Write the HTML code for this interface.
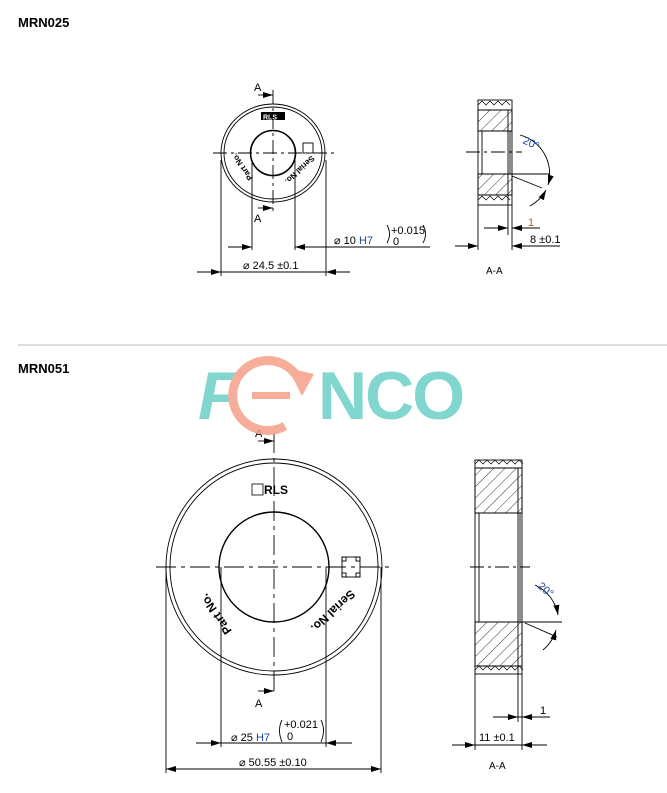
<!DOCTYPE html><html><head><style>body{margin:0;background:#fff}svg{display:block}text{font-family:"Liberation Sans",sans-serif}</style></head><body>
<svg width="667" height="793" viewBox="0 0 667 793" xmlns="http://www.w3.org/2000/svg">
<defs>
<pattern id="h" width="8" height="8" patternUnits="userSpaceOnUse" patternTransform="rotate(45)"><line x1="0" y1="0" x2="0" y2="8" stroke="#000" stroke-width="0.8"/></pattern>
<marker id="ar" viewBox="0 0 10 6" refX="10" refY="3" markerWidth="10" markerHeight="6" orient="auto-start-reverse" markerUnits="userSpaceOnUse"><path d="M0,0L10,3L0,6z" fill="#000"/></marker>
</defs>
<text x="18" y="27" font-size="13" font-weight="bold">MRN025</text>
<text x="18" y="373" font-size="13" font-weight="bold">MRN051</text>
<line x1="18" y1="345" x2="667" y2="345" stroke="#bbb" stroke-width="1"/>
<g stroke="#000" fill="none" stroke-width="0.9">
<!-- top front -->
<ellipse cx="273" cy="153" rx="52" ry="49"/><ellipse cx="273" cy="153" rx="49" ry="46"/>
<circle cx="273" cy="153" r="22.5" stroke-width="1.6"/>
<line x1="213" y1="153" x2="338" y2="153" stroke-dasharray="14,4,3,4"/>
<line x1="273" y1="90" x2="273" y2="215" stroke-dasharray="14,4,3,4"/>
<line x1="258" y1="95" x2="273" y2="95" marker-end="url(#ar)"/><line x1="258" y1="208" x2="273" y2="208" marker-end="url(#ar)"/>
<rect x="303" y="143" width="10" height="10"/>
<line x1="221" y1="160" x2="221" y2="276"/><line x1="326" y1="160" x2="326" y2="276"/>
<line x1="252" y1="160" x2="252" y2="250"/><line x1="295" y1="160" x2="295" y2="250"/>
<line x1="228" y1="247" x2="252" y2="247" marker-end="url(#ar)"/><line x1="318" y1="247" x2="295" y2="247" marker-end="url(#ar)"/><line x1="295" y1="247" x2="430" y2="247"/>
<line x1="197" y1="272" x2="221" y2="272" marker-end="url(#ar)"/><line x1="350" y1="272" x2="326" y2="272" marker-end="url(#ar)"/><line x1="221" y1="272" x2="326" y2="272"/>
<path d="M387,225 q5,9 0,18"/><path d="M423,225 q5,9 0,18"/>
<!-- top section -->
<rect x="478" y="100" width="34" height="105"/>
<rect x="478" y="110" width="34" height="21" fill="url(#h)"/><rect x="478" y="174" width="34" height="21" fill="url(#h)"/>
<line x1="478" y1="110" x2="512" y2="110"/><line x1="478" y1="195" x2="512" y2="195"/>
<path d="M478,105l4,-4l4,4l4,-4l4,4l4,-4l4,4l4,-4l4,4M478,200l4,-4l4,4l4,-4l4,4l4,-4l4,4l4,-4l4,4" stroke-width="0.7"/>
<line x1="482" y1="131" x2="482" y2="174"/><line x1="510" y1="131" x2="510" y2="174"/>
<line x1="478" y1="131" x2="512" y2="131"/><line x1="478" y1="174" x2="512" y2="174"/>
<line x1="508" y1="110" x2="508" y2="235"/><line x1="478" y1="205" x2="478" y2="250"/><line x1="512" y1="205" x2="512" y2="250"/>
<line x1="466" y1="152" x2="522" y2="152" stroke-dasharray="14,4,3,4"/>
<line x1="512" y1="174" x2="550" y2="174"/><line x1="512" y1="176" x2="542" y2="188"/>
<path d="M520,135 A40,40 0 0 1 548,185" marker-end="url(#ar)"/><path d="M530,206 A40,40 0 0 0 546,190" marker-end="url(#ar)"/>
<line x1="484" y1="228" x2="508" y2="228" marker-end="url(#ar)"/><line x1="535" y1="228" x2="512" y2="228" marker-end="url(#ar)"/><line x1="512" y1="228" x2="540" y2="228"/>
<line x1="455" y1="246" x2="478" y2="246" marker-end="url(#ar)"/><line x1="560" y1="246" x2="512" y2="246" marker-end="url(#ar)"/>
<!-- bottom front -->
<circle cx="274" cy="567" r="108"/><circle cx="274" cy="567" r="104"/>
<circle cx="274" cy="567" r="55" stroke-width="1.4"/>
<line x1="156" y1="567" x2="392" y2="567" stroke-dasharray="20,5,4,5"/>
<line x1="274" y1="433" x2="274" y2="695" stroke-dasharray="20,5,4,5"/>
<line x1="258" y1="441" x2="274" y2="441" marker-end="url(#ar)"/><line x1="258" y1="691" x2="274" y2="691" marker-end="url(#ar)"/>
<rect x="342" y="557" width="18" height="20"/>
<rect x="342" y="557" width="4" height="4"/><rect x="356" y="557" width="4" height="4"/><rect x="342" y="573" width="4" height="4"/><rect x="356" y="573" width="4" height="4"/>
<line x1="166" y1="567" x2="166" y2="773"/><line x1="381" y1="567" x2="381" y2="773"/>
<line x1="221" y1="567" x2="221" y2="747"/><line x1="326" y1="567" x2="326" y2="747"/>
<line x1="196" y1="743" x2="221" y2="743" marker-end="url(#ar)"/><line x1="352" y1="743" x2="326" y2="743" marker-end="url(#ar)"/><line x1="221" y1="743" x2="326" y2="743"/>
<line x1="166" y1="769" x2="381" y2="769" marker-start="url(#ar)" marker-end="url(#ar)"/>
<path d="M282,720 q-5,10 0,22"/><path d="M321,720 q5,10 0,22"/>
<!-- bottom section -->
<rect x="475" y="460" width="47" height="214"/>
<rect x="475" y="468" width="47" height="45" fill="url(#h)"/><rect x="475" y="622" width="47" height="44" fill="url(#h)"/>
<line x1="475" y1="468" x2="522" y2="468"/><line x1="475" y1="666" x2="522" y2="666"/>
<path d="M475,464l4,-4l4,4l4,-4l4,4l4,-4l4,4l4,-4l4,4l4,-4l4,4l4,-4l4,4M475,670l4,-4l4,4l4,-4l4,4l4,-4l4,4l4,-4l4,4l4,-4l4,4l4,-4l4,4" stroke-width="0.7"/>
<line x1="479" y1="513" x2="479" y2="622"/><line x1="520" y1="513" x2="520" y2="622"/>
<line x1="475" y1="513" x2="522" y2="513"/><line x1="475" y1="622" x2="522" y2="622"/>
<line x1="518" y1="468" x2="518" y2="722"/><line x1="475" y1="674" x2="475" y2="750"/><line x1="522" y1="674" x2="522" y2="750"/>
<line x1="470" y1="567" x2="530" y2="567" stroke-dasharray="14,4,3,4"/>
<line x1="522" y1="622" x2="562" y2="622"/><line x1="525" y1="623" x2="557" y2="637"/>
<path d="M535,585 A40,40 0 0 1 558,615" marker-end="url(#ar)"/><path d="M543,650 A40,40 0 0 0 556,630" marker-end="url(#ar)"/>
<line x1="493" y1="717" x2="518" y2="717" marker-end="url(#ar)"/><line x1="545" y1="717" x2="522" y2="717" marker-end="url(#ar)"/><line x1="518" y1="717" x2="550" y2="717"/>
<line x1="452" y1="745" x2="475" y2="745" marker-end="url(#ar)"/><line x1="547" y1="745" x2="522" y2="745" marker-end="url(#ar)"/><line x1="475" y1="745" x2="522" y2="745"/>
</g>
<g font-size="11" fill="#000">
<text x="254" y="91">A</text><text x="254" y="222">A</text>
<rect x="261" y="112" width="24" height="8" fill="#000"/><text x="263" y="119.5" font-size="7" fill="#fff" font-weight="bold">RLS</text>
<text x="242" y="170" font-size="8" font-weight="bold" text-anchor="middle" transform="rotate(236 242 167)">Part No.</text>
<text x="300" y="173" font-size="8" font-weight="bold" text-anchor="middle" transform="rotate(137 300 170)">Serial No.</text>
<text x="334" y="244">⌀ 10 <tspan fill="#1a4aa0">H7</tspan></text><text x="391" y="234">+0.015</text><text x="393" y="245">0</text>
<text x="243" y="269">⌀ 24.5 ±0.1</text>
<text x="524" y="146" fill="#1a4aa0" transform="rotate(25 530 140)">20°</text>
<text x="528" y="226" fill="#c85a00">1</text><text x="530" y="243">8 ±0.1</text>
<text x="486" y="274" font-size="10">A-A</text>
<text x="255" y="437">A</text><text x="255" y="707">A</text>
<rect x="252" y="484" width="11" height="11" fill="none" stroke="#000" stroke-width="0.8"/><text x="264" y="494" font-weight="bold" font-size="12">RLS</text>
<text x="216" y="618" font-size="12" font-weight="bold" text-anchor="middle" transform="rotate(236 216 614)">Part No.</text>
<text x="333" y="615" font-size="12" font-weight="bold" text-anchor="middle" transform="rotate(137 333 611)">Serial No.</text>
<text x="231" y="741">⌀ 25 <tspan fill="#1a4aa0">H7</tspan></text><text x="284" y="728">+0.021</text><text x="287" y="740">0</text>
<text x="239" y="766">⌀ 50.55 ±0.10</text>
<text x="537" y="593" fill="#1a4aa0" transform="rotate(40 545 590)">20°</text>
<text x="540" y="714">1</text><text x="479" y="741">11 ±0.1</text>
<text x="489" y="769" font-size="10">A-A</text>
</g>
<g opacity="0.85">
<text x="198" y="419" font-size="68" fill="#6ccfc8" font-style="italic" font-weight="bold">F</text>
<path d="M298,378 A35,35 0 1 0 285,426" fill="none" stroke="#f5a08a" stroke-width="9"/>
<path d="M288,368 L314,374 L302,396 z" fill="#f5a08a"/>
<rect x="252" y="392" width="38" height="7" fill="#f5a08a"/>
<text x="318" y="419" font-size="68" fill="#6ccfc8" font-weight="bold" letter-spacing="-2">NCO</text>
</g>
</svg>
</body></html>
